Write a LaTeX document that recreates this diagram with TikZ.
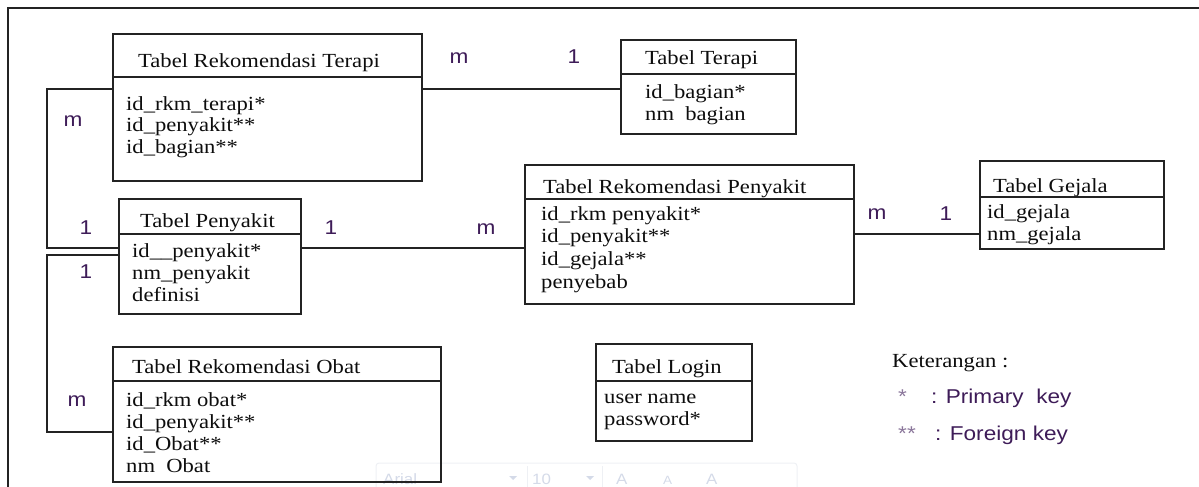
\documentclass[tikz,border=0pt]{standalone}
\usepackage{fontspec}
\setmainfont{Liberation Serif}[FakeStretch=1.13]
\newfontfamily\arialf{Liberation Sans}[FakeStretch=1.13]
\definecolor{labcol}{RGB}{62,28,88}
\definecolor{linecol}{RGB}{35,35,35}
\definecolor{ghost}{RGB}{212,218,232}
\definecolor{ghostline}{RGB}{238,240,244}
\begin{document}
\begin{tikzpicture}[x=1pt,y=-1pt,
  tbl/.style={draw=linecol, line width=1.6pt, rectangle, inner sep=0pt, anchor=north west},
  conn/.style={draw=linecol, line width=1.3pt},
  divl/.style={draw=linecol, line width=1.5pt},
  txt/.style={anchor=base west, inner sep=0pt, font=\fontsize{20}{22}\selectfont, text=black!95},
  card/.style={anchor=center, inner sep=0pt, font=\arialf\fontsize{20}{22}\selectfont, text=labcol},
  keyt/.style={anchor=base west, inner sep=0pt, font=\arialf\fontsize{20}{22}\selectfont, text=labcol},
  ghosttxt/.style={anchor=base west, inner sep=0pt, font=\arialf\fontsize{15}{17}\selectfont, text=ghost},
]
\useasboundingbox (0,0) rectangle (1199,487);
% frame
\draw[linecol, line width=1.6pt] (8,487) -- (8,8) -- (1199,8);

% faint toolbar ghost
\draw[ghostline, line width=1pt, rounded corners=3pt] (376,463) rectangle (797,495);
\draw[ghostline, line width=1pt] (527,466) -- (527,495) (602,466) -- (602,495);
\node[ghosttxt] (gh1) at (383,484) {Arial};
\node[ghosttxt] (gh2) at (532,484) {10};
\fill[ghost] (509,476) -- (517,476) -- (513,480) -- cycle;
\fill[ghost] (586,476) -- (594,476) -- (590,480) -- cycle;
\node[ghosttxt] (gh4) at (616,484) {A};
\node[ghosttxt, font=\arialf\fontsize{12}{14}\selectfont] (gh5) at (663,484) {A};
\node[ghosttxt] (gh6) at (706,484) {A};

% Tabel Rekomendasi Terapi
\node[tbl, minimum width=309pt, minimum height=147pt] (trt) at (112,33) {};
\draw[divl] (trt.west |- 0,77) -- (trt.east |- 0,77);
\node[txt] (trt-t) at (138,67) {Tabel Rekomendasi Terapi};
\node[txt] (trt-1) at (126,110) {id\_rkm\_terapi*};
\node[txt] (trt-2) at (126,131) {id\_penyakit**};
\node[txt] (trt-3) at (126,153) {id\_bagian**};

% Tabel Terapi
\node[tbl, minimum width=175pt, minimum height=94pt] (ter) at (620,39) {};
\draw[divl] (ter.west |- 0,74) -- (ter.east |- 0,74);
\node[txt] (ter-t) at (645,65) {Tabel Terapi};
\node[txt] (ter-1) at (645,98) {id\_bagian*};
\node[txt] (ter-2) at (645,120) {nm\ \ bagian};

% Tabel Penyakit
\node[tbl, minimum width=182pt, minimum height=115pt] (pen) at (118,198) {};
\draw[divl] (pen.west |- 0,234) -- (pen.east |- 0,234);
\node[txt] (pen-t) at (140,227) {Tabel Penyakit};
\node[txt] (pen-1) at (132,257) {id\_\_penyakit*};
\node[txt] (pen-2) at (132,279) {nm\_penyakit};
\node[txt] (pen-3) at (132,301) {definisi};

% Tabel Rekomendasi Penyakit
\node[tbl, minimum width=329pt, minimum height=139pt] (rkp) at (524,164) {};
\draw[divl] (rkp.west |- 0,199) -- (rkp.east |- 0,199);
\node[txt] (rkp-t) at (543,193) {Tabel Rekomendasi Penyakit};
\node[txt] (rkp-1) at (541,220) {id\_rkm penyakit*};
\node[txt] (rkp-2) at (541,242) {id\_penyakit**};
\node[txt] (rkp-3) at (541,265) {id\_gejala**};
\node[txt] (rkp-4) at (541,288) {penyebab};

% Tabel Gejala
\node[tbl, minimum width=184pt, minimum height=88pt] (gej) at (979,160) {};
\draw[divl] (gej.west |- 0,197) -- (gej.east |- 0,197);
\node[txt] (gej-t) at (993,192) {Tabel Gejala};
\node[txt] (gej-1) at (987,218) {id\_gejala};
\node[txt] (gej-2) at (987,240) {nm\_gejala};

% Tabel Rekomendasi Obat
\node[tbl, minimum width=328pt, minimum height=135pt] (rko) at (112,346) {};
\draw[divl] (rko.west |- 0,381) -- (rko.east |- 0,381);
\node[txt] (rko-t) at (132,373) {Tabel Rekomendasi Obat};
\node[txt] (rko-1) at (126,406) {id\_rkm obat*};
\node[txt] (rko-2) at (126,428) {id\_penyakit**};
\node[txt] (rko-3) at (126,450) {id\_Obat**};
\node[txt] (rko-4) at (126,472) {nm\ \ Obat};

% Tabel Login
\node[tbl, minimum width=156pt, minimum height=97pt] (log) at (595,343) {};
\draw[divl] (log.west |- 0,381) -- (log.east |- 0,381);
\node[txt] (log-t) at (612,373) {Tabel Login};
\node[txt] (log-1) at (604,403) {user name};
\node[txt] (log-2) at (604,425) {password*};

% connectors
\coordinate (c1a) at (47,89);
\coordinate (c1b) at (47,248);
\coordinate (c2a) at (47,255);
\coordinate (c2b) at (47,432);
\draw[conn] (trt.east |- 0,89) -- (ter.west |- 0,89);
\draw[conn] (trt.west |- c1a) -- (c1a) -- (c1b) -- (pen.west |- c1b);
\draw[conn] (pen.west |- c2a) -- (c2a) -- (c2b) -- (rko.west |- c2b);
\draw[conn] (pen.east |- 0,248) -- (rkp.west |- 0,248);
\draw[conn] (rkp.east |- 0,234) -- (gej.west |- 0,234);

% cardinalities
\node[card] (m1) at (459,58) {m};
\node[card] (o1) at (574,57) {1};
\node[card] (m2) at (73,121) {m};
\node[card] (o2) at (86,228) {1};
\node[card] (o3) at (331,228) {1};
\node[card] (m3) at (486,229) {m};
\node[card] (m4) at (877,214) {m};
\node[card] (o4) at (946,214) {1};
\node[card] (o5) at (86,272) {1};
\node[card] (m5) at (77,401) {m};

% legend
\node[txt] (ket) at (892,367) {Keterangan :};
\node[keyt, text=labcol!60] (s1) at (898,403) {*};
\node[keyt] (k1) at (931,403) {: Primary\ \ key};
\node[keyt, text=labcol!60] (s2) at (898,440) {**};
\node[keyt] (k2) at (935,440) {: Foreign key};
\end{tikzpicture}
\end{document}
